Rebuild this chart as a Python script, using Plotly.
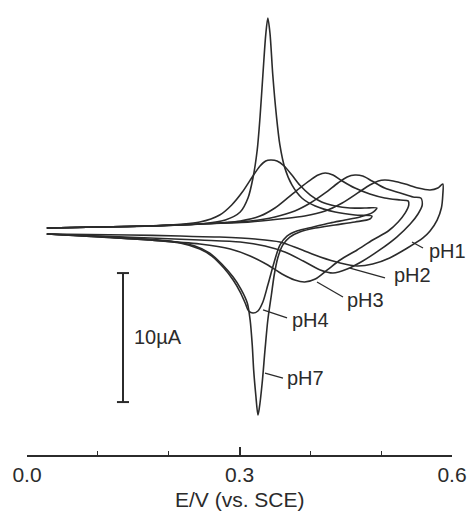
import plotly.graph_objects as go

# Cyclic voltammograms: potential E (V vs. SCE) and current I (uA)
E_pH7 = [0.028, 0.103, 0.174, 0.244, 0.280, 0.301, 0.312, 0.319, 0.325, 0.329, 0.333, 0.337, 0.340,
         0.343, 0.347, 0.352, 0.357, 0.364, 0.374, 0.388, 0.407, 0.435, 0.463, 0.487,
         0.484, 0.463, 0.435, 0.407, 0.385, 0.371, 0.361, 0.354, 0.349, 0.345, 0.340, 0.336, 0.332,
         0.328, 0.326, 0.323, 0.320, 0.318, 0.315, 0.311, 0.302, 0.291, 0.275, 0.258, 0.237, 0.202,
         0.145, 0.089, 0.028]
I_pH7 = [0.23, 0.31, 0.39, 0.54, 0.85, 1.47, 2.56, 4.11, 6.28, 8.84, 12.09, 15.19, 16.51,
         15.35, 12.09, 8.99, 6.67, 4.88, 3.57, 2.56, 1.94, 1.47, 1.24, 1.16,
         0.93, 0.70, 0.47, 0.23, -0.08, -0.47, -1.09, -2.09, -3.41, -4.96, -6.90, -9.22, -11.78,
         -13.72, -14.26, -12.71, -10.78, -8.84, -6.90, -5.58, -4.50, -3.57, -2.56, -1.71, -1.16, -0.78,
         -0.54, -0.39, -0.23]

E_pH4 = [0.028, 0.103, 0.174, 0.244, 0.272, 0.289, 0.304, 0.318, 0.329, 0.337, 0.344, 0.353, 0.363,
         0.374, 0.385, 0.400, 0.416, 0.435, 0.456, 0.477, 0.494,
         0.487, 0.470, 0.449, 0.428, 0.404, 0.381, 0.367, 0.357, 0.349, 0.340, 0.333, 0.326, 0.319,
         0.313, 0.308, 0.301, 0.291, 0.278, 0.261, 0.244, 0.216, 0.174, 0.103, 0.028]
I_pH4 = [0.23, 0.31, 0.39, 0.70, 1.24, 2.02, 3.02, 4.19, 5.04, 5.43, 5.50, 5.43, 5.04,
         4.34, 3.57, 2.79, 2.25, 1.94, 1.78, 1.78, 1.78,
         1.40, 1.09, 0.85, 0.62, 0.31, 0.00, -0.39, -1.09, -2.40, -4.19, -5.50, -6.20, -6.36,
         -6.20, -5.58, -4.73, -3.80, -2.87, -1.94, -1.40, -0.93, -0.70, -0.47, -0.23]

E_pH3 = [0.028, 0.103, 0.174, 0.244, 0.301, 0.329, 0.350, 0.368, 0.385, 0.400, 0.411, 0.421, 0.432,
         0.445, 0.463, 0.484, 0.505, 0.527, 0.538,
         0.539, 0.534, 0.524, 0.510, 0.488, 0.466, 0.442, 0.424, 0.407, 0.392, 0.378, 0.360, 0.340,
         0.315, 0.287, 0.244, 0.174, 0.103, 0.028]
I_pH3 = [0.23, 0.31, 0.39, 0.54, 0.78, 1.16, 1.78, 2.56, 3.33, 3.95, 4.34, 4.50, 4.34,
         3.88, 3.33, 2.87, 2.56, 2.40, 2.33,
         2.02, 1.40, 0.70, 0.00, -0.70, -1.47, -2.25, -3.02, -3.72, -3.95, -3.80, -3.33, -2.64,
         -1.94, -1.40, -1.01, -0.70, -0.47, -0.23]

E_pH2 = [0.028, 0.103, 0.174, 0.244, 0.315, 0.350, 0.378, 0.400, 0.421, 0.439, 0.452, 0.463, 0.474,
         0.487, 0.505, 0.527, 0.545, 0.556,
         0.558, 0.552, 0.541, 0.522, 0.498, 0.474, 0.452, 0.432, 0.414, 0.390, 0.364, 0.336, 0.301,
         0.244, 0.174, 0.103, 0.028]
I_pH2 = [0.23, 0.31, 0.39, 0.54, 0.78, 1.09, 1.55, 2.17, 2.95, 3.72, 4.19, 4.34, 4.26,
         3.88, 3.33, 2.95, 2.64, 2.56,
         2.02, 1.32, 0.54, -0.47, -1.47, -2.33, -2.95, -3.26, -3.02, -2.33, -1.63, -1.16, -0.85,
         -0.70, -0.54, -0.39, -0.23]

E_pH1 = [0.028, 0.103, 0.174, 0.244, 0.315, 0.357, 0.392, 0.421, 0.445, 0.467, 0.484, 0.496, 0.505,
         0.517, 0.534, 0.552, 0.569, 0.580, 0.587,
         0.587, 0.585, 0.579, 0.569, 0.559, 0.537, 0.512, 0.488, 0.466, 0.442, 0.414, 0.385, 0.357,
         0.322, 0.272, 0.216, 0.145, 0.028]
I_pH1 = [0.23, 0.31, 0.39, 0.54, 0.70, 0.93, 1.16, 1.55, 2.17, 2.95, 3.57, 3.88, 3.95,
         3.88, 3.64, 3.33, 3.18, 3.33, 3.64,
         2.79, 1.78, 0.85, 0.00, -0.54, -1.32, -2.09, -2.56, -2.71, -2.48, -2.02, -1.40, -0.85,
         -0.62, -0.47, -0.39, -0.31, -0.23]

curves = [("pH7", E_pH7, I_pH7), ("pH4", E_pH4, I_pH4), ("pH3", E_pH3, I_pH3),
          ("pH2", E_pH2, I_pH2), ("pH1", E_pH1, I_pH1)]

# Curve labels: text, leader line start (E, I), leader line end (E, I), text anchor (E, I)
label_text = ["pH1", "pH2", "pH3", "pH4", "pH7"]
leader_from = [(0.5435, -0.85), (0.456, -2.87), (0.4094, -3.95), (0.3332, -6.12), (0.3360, -11.01)]
leader_to = [(0.5591, -1.32), (0.5054, -3.64), (0.4461, -5.12), (0.3671, -6.74), (0.3614, -11.40)]
label_pos = [(0.5647, -1.55), (0.5153, -3.41), (0.4489, -5.35), (0.3713, -6.90), (0.3642, -11.40)]

# Scale bar (10 uA)
bar_E = 0.1355
bar_I = [-13.26, -3.26]
bar_label = "10\u00b5A"

x_ticks = [0.0, 0.3, 0.6]
x_ticktext = ["0.0", "0.3", "0.6"]
x_title = "E/V (vs. SCE)"

INK = "#2b2b2b"
FONT = "Liberation Sans, Arial, Helvetica, sans-serif"

fig = go.Figure()
for name, e, i in curves:
    fig.add_trace(go.Scatter(x=e, y=i, mode="lines", name=name,
                             line=dict(color=INK, width=1.6, shape="spline", smoothing=0.8),
                             hoverinfo="skip", showlegend=False))

shapes = []
for (x0, y0), (x1, y1) in zip(leader_from, leader_to):
    shapes.append(dict(type="line", xref="x", yref="y", x0=x0, y0=y0, x1=x1, y1=y1,
                       line=dict(color=INK, width=1.3)))
shapes.append(dict(type="line", xref="x", yref="y", x0=bar_E, x1=bar_E, y0=bar_I[0], y1=bar_I[1],
                   line=dict(color=INK, width=2)))
for yb in bar_I:
    shapes.append(dict(type="line", xref="x", yref="y", x0=bar_E - 0.0085, x1=bar_E + 0.0085,
                       y0=yb, y1=yb, line=dict(color=INK, width=2)))

annotations = []
for t, (xa, ya) in zip(label_text, label_pos):
    annotations.append(dict(x=xa, y=ya, xref="x", yref="y", text=t, showarrow=False,
                            xanchor="left", yanchor="middle",
                            font=dict(family=FONT, size=20, color=INK)))
annotations.append(dict(x=0.1482, y=-8.22, xref="x", yref="y", text=bar_label, showarrow=False,
                        xanchor="left", yanchor="middle",
                        font=dict(family=FONT, size=20, color=INK)))
# axis title placed just below the tick labels
annotations.append(dict(x=0.3, y=-0.1011, xref="x", yref="paper", text=x_title, showarrow=False,
                        xanchor="center", yanchor="middle",
                        font=dict(family=FONT, size=21, color=INK)))

fig.update_layout(
    width=471, height=511,
    margin=dict(l=27, r=19, t=10, b=56),
    paper_bgcolor="white", plot_bgcolor="white",
    shapes=shapes, annotations=annotations,
    xaxis=dict(range=[0, 0.6], showgrid=False, zeroline=False, automargin=False,
               showline=True, linecolor=INK, linewidth=1.5,
               tickmode="array", tickvals=x_ticks, ticktext=x_ticktext,
               ticks="inside", ticklen=8, tickwidth=1.5, tickcolor=INK,
               minor=dict(dtick=0.1, tick0=0, ticks="inside", ticklen=4, tickwidth=1.3, tickcolor=INK),
               tickfont=dict(family=FONT, size=21, color=INK), ticklabelstandoff=0),
    yaxis=dict(range=[-17.364, 17.132], visible=False, showgrid=False, zeroline=False),
)

fig.write_html("out.html")
